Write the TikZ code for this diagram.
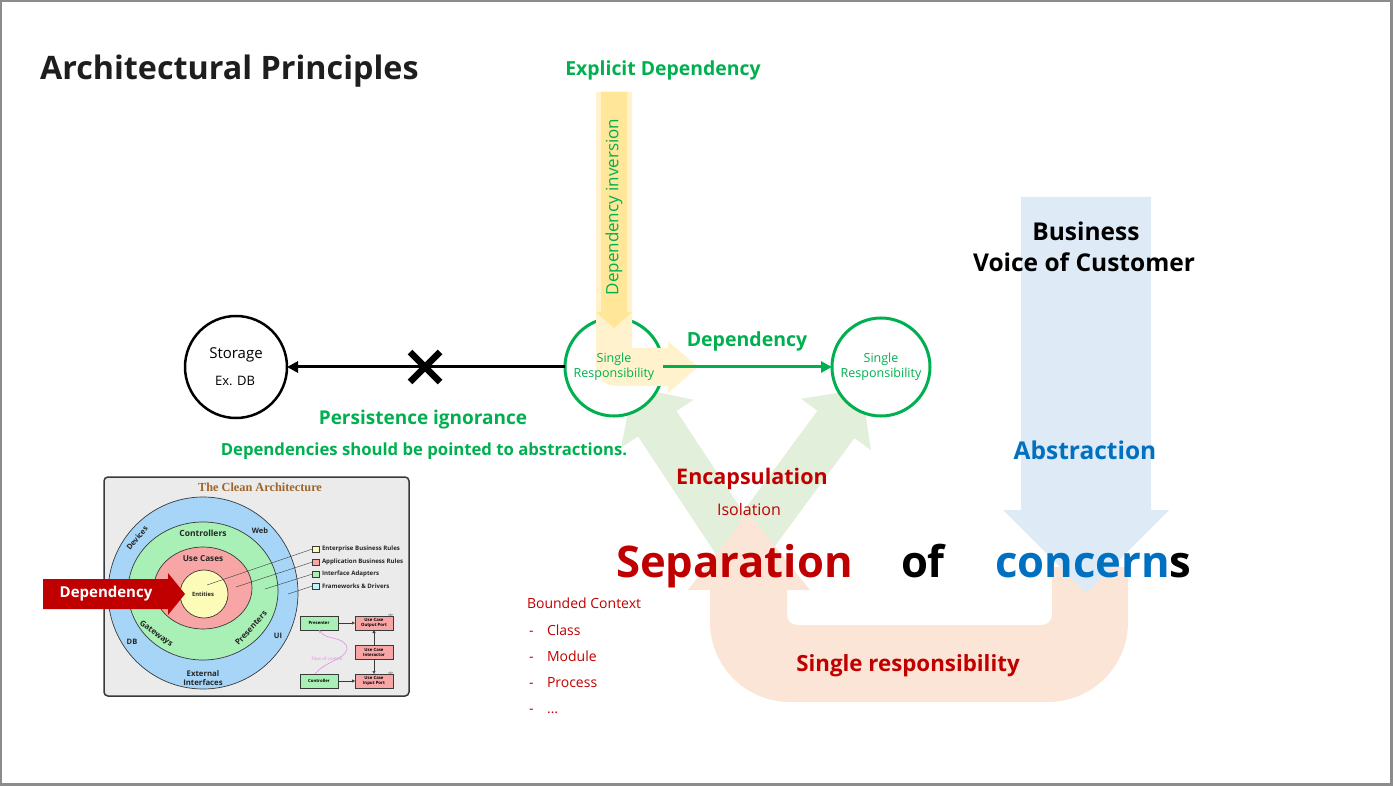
\documentclass[tikz,border=0pt]{standalone}
\usepackage{fontspec}
\setmainfont{Open Sans}
\newfontfamily\capserif{Liberation Serif}
\usetikzlibrary{arrows.meta,shapes.misc}
\newcommand\fsz[1]{\fontsize{#1}{#1}\selectfont}
\definecolor{framegray}{HTML}{8C8C8C}
\definecolor{sgreen}{HTML}{00B050}
\definecolor{dred}{HTML}{C00000}
\definecolor{sblue}{HTML}{0070C0}
\definecolor{ylight}{HTML}{FFF2CC}
\definecolor{ydark}{HTML}{FFE699}
\definecolor{glight}{HTML}{E2EFDA}
\definecolor{olight}{HTML}{FBE5D6}
\definecolor{blight}{HTML}{DEEBF7}
\definecolor{titleblack}{HTML}{1E1E1E}
\definecolor{cabg}{HTML}{EBEBEB}
\definecolor{caline}{HTML}{3A3A3A}
\definecolor{cablue}{HTML}{A6D5F7}
\definecolor{cagreen}{HTML}{A8F0B5}
\definecolor{capink}{HTML}{F8A5A5}
\definecolor{cayellow}{HTML}{FCFBB8}
\definecolor{cacyan}{HTML}{BFF3F5}
\definecolor{cabrown}{HTML}{A0652A}
\definecolor{flowpink}{HTML}{E88AE8}
\begin{document}
\begin{tikzpicture}[x=1pt,y=-1pt,
  every node/.style={inner sep=0pt,outer sep=0pt},
  srcircle/.style={circle,draw=sgreen,line width=3pt,fill=white,minimum size=98pt},
  srtext/.style={text=sgreen,align=center,font=\fontsize{12.5}{15}\selectfont},
  gbold/.style={text=sgreen,font=\bfseries\fsz{#1}},
  rbold/.style={text=dred,font=\bfseries\fsz{#1}},
  vshaft/.style={glight,line width=46pt,-{Triangle[length=44pt,width=84pt]}},
  ring/.style={draw=caline,line width=0.7pt},
  calabel/.style={font=\bfseries\fsz{#1},text=black!85},
  legendbox/.style={draw=caline,line width=0.4pt,minimum width=7pt,minimum height=6pt},
  flowbox/.style={draw=caline,line width=0.5pt,minimum width=38pt,minimum height=14pt,
    align=center,font=\bfseries\fontsize{4.3}{5}\selectfont},
  listitem/.style={anchor=base west,text=dred,font=\fsz{14}},
]
% page frame
\fill[framegray] (0,0) rectangle (1393,786);
\fill[white] (2,2) rectangle (1390,783);
\useasboundingbox (0,0) rectangle (1393,786);

% title
\node[anchor=base west,text=titleblack,font=\bfseries\fsz{32.3}] (title) at (40,80) {Architectural Principles};

% ---------- The Clean Architecture figure ----------
\draw[draw=caline,fill=cabg,line width=1.5pt,rounded corners=4pt] (104,477) rectangle (409,696);
\node[text=cabrown,font=\capserif\bfseries\fsz{12.3}] (catitle) at (260,487) {The Clean Architecture};
\filldraw[ring,fill=cablue] (203,593) ellipse[x radius=95,y radius=96];
\filldraw[ring,fill=cagreen] (203,591) ellipse[x radius=75,y radius=69];
\filldraw[ring,fill=capink] (203,588) ellipse[x radius=49,y radius=41];
\filldraw[ring,fill=cayellow] (204,594) ellipse[x radius=24,y radius=24];
\node[calabel=8.5] (lctrl) at (203,533) {Controllers};
\node[calabel=8.2] (luse) at (203,559) {Use Cases};
\node[calabel=5.8] (lent) at (203,594) {Entities};
\node[calabel=7.5,rotate=50] (ldev) at (137,538) {Devices};
\node[calabel=7.5] (lweb) at (260,531) {Web};
\node[calabel=8,rotate=-36] (lgate) at (156,634) {Gateways};
\node[calabel=8,rotate=48] (lpres) at (251,628) {Presenters};
\node[calabel=7.5] (ldb) at (132,642) {DB};
\node[calabel=7.5] (lui) at (278,636) {UI};
\node[calabel=7,align=center,font=\bfseries\fontsize{7.8}{9.5}\selectfont] (lext) at (203,678) {External\\Interfaces};
% legend
\node[legendbox,fill=cayellow] (k1) at (316,549) {};
\node[legendbox,fill=capink] (k2) at (316,562) {};
\node[legendbox,fill=cagreen] (k3) at (316,574) {};
\node[legendbox,fill=cacyan] (k4) at (316,586) {};
\node[calabel=6.1,anchor=west] (t1) at (322,549) {Enterprise Business Rules};
\node[calabel=6.1,anchor=west] (t2) at (322,562) {Application Business Rules};
\node[calabel=6.1,anchor=west] (t3) at (322,574) {Interface Adapters};
\node[calabel=6.1,anchor=west] (t4) at (322,586) {Frameworks \& Drivers};
\coordinate (p1) at (207,585);
\coordinate (p2) at (236,587);
\coordinate (p3) at (265,589);
\coordinate (p4) at (288,594);
\draw[caline,line width=0.4pt] (k1.west) -- (p1);
\draw[caline,line width=0.4pt] (k2.west) -- (p2);
\draw[caline,line width=0.4pt] (k3.west) -- (p3);
\draw[caline,line width=0.4pt] (k4.west) -- (p4);
% flow of control
\node[flowbox,fill=cagreen] (presenter) at (319,623) {Presenter};
\node[flowbox,fill=capink] (outport) at (374,623) {Use Case\\Output Port};
\node[flowbox,fill=capink] (interactor) at (374,652) {Use Case\\Interactor};
\node[flowbox,fill=cagreen] (controller) at (319,681) {Controller};
\node[flowbox,fill=capink] (inport) at (374,681) {Use Case\\Input Port};
\node[font=\fsz{3.5},anchor=south east] (ioa) at (outport.north east) {\textless I\textgreater};
\node[font=\fsz{3.5},anchor=south east] (iob) at (inport.north east) {\textless I\textgreater};
\draw[caline,line width=0.5pt,-{Triangle[open,length=3pt,width=3pt]}] (presenter) -- (outport);
\draw[caline,line width=0.5pt,-{Triangle[length=3pt,width=3pt]}] (interactor) -- (outport);
\draw[caline,line width=0.5pt,-{Triangle[open,length=3pt,width=3pt]}] (interactor) -- (inport);
\draw[caline,line width=0.5pt,-{Triangle[length=3pt,width=3pt]}] (controller) -- (inport);
\coordinate (flowstart) at (315,674);
\draw[flowpink,line width=0.6pt,-{Stealth[length=3pt,width=3pt]}]
  (flowstart) .. controls (326,660) and (352,658) .. (346,645)
  .. controls (340,636) and (326,640) .. (presenter.south);
\node[text=flowpink,font=\fsz{4.5}] (flowtxt) at (327,659) {Flow of control};

% red dependency block arrow
\fill[dred] (43,579) -- (168,579) -- (168,573) -- (185,594) -- (168,615) -- (168,609) -- (43,609) -- cycle;
\node[text=white,font=\bfseries\fsz{15}] (depblock) at (106,594) {Dependency};

% ---------- block arrows ----------
% encapsulation: two arrows spreading upwards
\draw[vshaft] (742,552) -- (633,387);
\draw[vshaft] (742,552) -- (862,389);
% single responsibility: U-turn arrow
\fill[olight] (748,513) -- (810,590) -- (787,590) -- (787,615)
  arc[start angle=180,end angle=90,radius=10] -- (1042,625)
  arc[start angle=90,end angle=0,radius=10] -- (1052,567) -- (1128,567) -- (1128,622)
  arc[start angle=0,end angle=90,radius=80] -- (790,702)
  arc[start angle=90,end angle=180,radius=80] -- (710,590) -- (688,590) -- cycle;
% abstraction: downward arrow
\fill[blight] (1021,197) -- (1151,197) -- (1151,510) -- (1169,510) -- (1086,593)
  -- (1003,510) -- (1021,510) -- cycle;

% ---------- nodes ----------
\node[srcircle] (sr1) at (614,367) {};
\node[srcircle] (sr2) at (881,367) {};
\node[circle,draw=black,line width=2.5pt,fill=white,minimum size=102pt] (storage) at (236,367) {};

% dependency inversion: bent arrow over the left component
\fill[ylight] (596,92) -- (632,92) -- (632,348) -- (668,348) -- (668,341) -- (698,367)
  -- (668,393) -- (668,386) -- (616,386) arc[start angle=90,end angle=180,radius=20] -- cycle;
\fill[ydark] (601,92) -- (627,92) -- (627,312) -- (632,312) -- (614,328) -- (596,312) -- (601,312) -- cycle;

% connectors
\draw[black,line width=3pt,-{Triangle[length=11pt,width=11pt]}] (sr1.west) -- (storage.east);
\draw[sgreen,line width=3pt,-{Triangle[length=11pt,width=11pt]}] (sr1.east) -- (sr2.west);
\node[cross out,draw=black,line width=6.5pt,minimum width=30pt,minimum height=30pt] (xmark) at (425,367) {};

% texts
\node[srtext] (sr1txt) at (614,367) {Single\\Responsibility};
\node[srtext] (sr2txt) at (881,367) {Single\\Responsibility};
\node[font=\fsz{15}] (stortxt) at (236,355) {Storage};
\node[font=\fsz{13}] (dbtxt) at (235,381) {Ex. DB};
\node[gbold=19.4] (explicit) at (663,70) {Explicit Dependency};
\node[text=sgreen,font=\fsz{17},rotate=90] (inversion) at (614,207) {Dependency inversion};
\node[gbold=19.5] (deplabel) at (747,341) {Dependency};
\node[gbold=19] (persist) at (423,420) {Persistence ignorance};
\node[gbold=16.7] (abstr) at (424,451) {Dependencies should be pointed to abstractions.};
\node[font=\bfseries\fsz{24.5}] (business) at (1086,231) {Business};
\node[font=\bfseries\fsz{24.5}] (voc) at (1084,262) {Voice of Customer};
\node[text=sblue,font=\bfseries\fsz{24.5}] (abstraction) at (1085,450) {Abstraction};
\node[rbold=21.5] (encap) at (752,479) {Encapsulation};
\node[text=dred,font=\fsz{16}] (isol) at (749,509) {Isolation};
\node[rbold=43.6,anchor=base west] (sep) at (616,577) {Separation};
\node[font=\bfseries\fsz{43.6},anchor=base west] (of) at (901,577) {of};
\node[font=\bfseries\fsz{43.6},anchor=base west] (conc) at (995,577) {\textcolor{sblue}{concern}s};
\node[rbold=22.3] (singresp) at (908,666) {Single responsibility};
% bounded context list
\node[listitem] (bc) at (527,608) {Bounded Context};
\foreach \t/\yy in {Class/635,Module/661,Process/687}{
  \node[listitem] at (529,\yy) {-};
  \node[listitem] at (547,\yy) {\t};
}
\node[listitem] (dashlast) at (529,713) {-};
\node[listitem] (itemlast) at (547,713) {\ldots};
\end{tikzpicture}
\end{document}
